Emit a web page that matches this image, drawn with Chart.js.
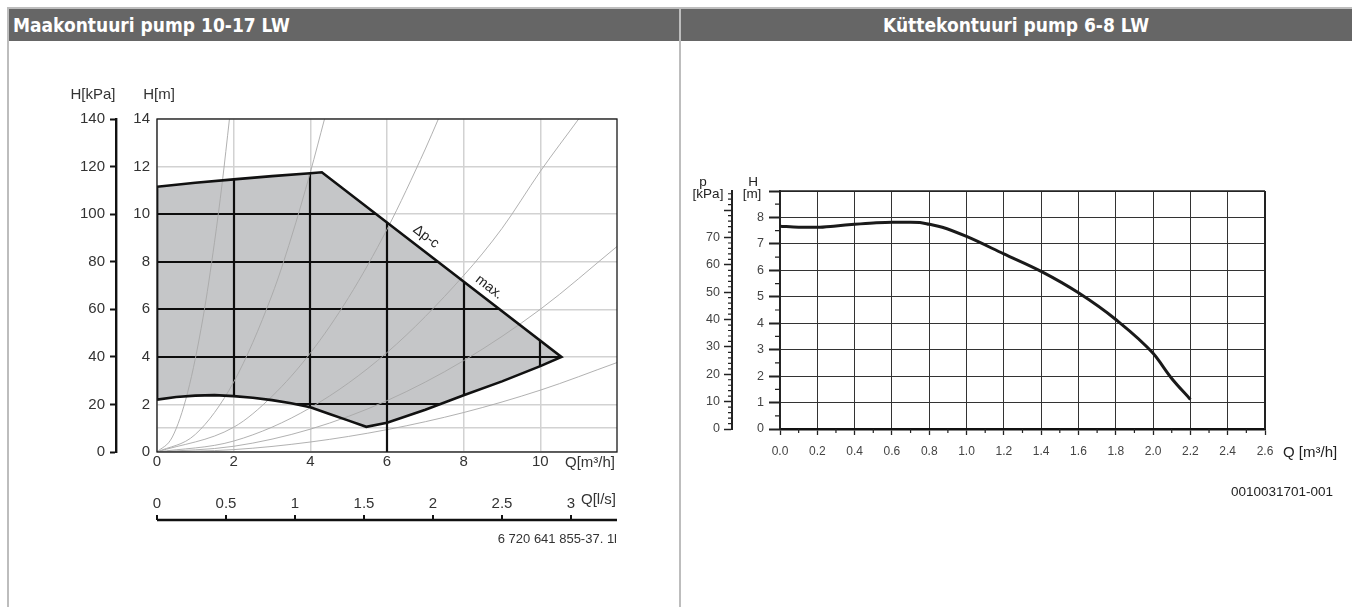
<!DOCTYPE html>
<html>
<head>
<meta charset="utf-8">
<script src="https://cdn.jsdelivr.net/npm/chart.js@4/dist/chart.umd.min.js"></script>
<style>
  html, body { margin: 0; padding: 0; background: #fff; }
  #page { position: relative; width: 1352px; height: 607px; overflow: hidden; }
  .topline { position: absolute; left: 7px; top: 7px; width: 1345px; height: 2px; background: #bdbdbd; }
  .vline { position: absolute; top: 7px; bottom: 0; width: 2px; background: #bdbdbd; }
  .head { position: absolute; top: 9px; height: 32px; background: #666; color: #fff;
          font-family: 'DejaVu Sans Condensed', 'DejaVu Sans', sans-serif; font-weight: bold;
          font-stretch: condensed; font-size: 20px; line-height: 32px; white-space: nowrap; }
  .head span { display: inline-block; transform: scaleX(0.95); }
  canvas { position: absolute; top: 0; }
</style>
</head>
<body>
<div id="page">
  <div class="topline"></div>
  <div class="vline" style="left:7px"></div>
  <div class="vline" style="left:679px"></div>
  <div class="head" style="left:9px;width:670px;"><span style="margin-left:4px;transform-origin:left center">Maakontuuri pump 10-17 LW</span></div>
  <div class="head" style="left:681px;width:671px;text-align:center;"><span style="transform-origin:center center">Küttekontuuri pump 6-8 LW</span></div>
  <canvas id="brine" width="680" height="607" style="left:0"></canvas>
  <canvas id="heating" width="672" height="607" style="left:680px"></canvas>
</div>
<script>
// ---------- brine circuit pump 10-17 LW ----------
const brineFlowTicks = [0, 2, 4, 6, 8, 10];            // Q [m³/h]
const brineFlowLsTicks = [0, 0.5, 1, 1.5, 2, 2.5, 3];  // Q [l/s]
const brineHeadTicks = [0, 1, 2, 4, 6, 8, 10, 12, 14]; // H [m] grid lines
const brineHeadLabels = [0, 2, 4, 6, 8, 10, 12, 14];
const brineKpaTicks = [0, 20, 40, 60, 80, 100, 120, 140];
const m3hPerLs = 3.6;

// operating field boundary
const fieldEdgeQ = [0, 0];
const fieldEdgeH = [2.2, 11.15];
const fieldTopQ = [0, 1, 2, 3, 4, 4.3];
const fieldTopH = [11.15, 11.32, 11.46, 11.6, 11.72, 11.76];
const fieldMaxQ = [4.3, 10.55];
const fieldMaxH = [11.76, 4.0];
const fieldLowRightQ = [5.46, 6, 7, 8, 9, 10, 10.55];
const fieldLowRightH = [1.06, 1.23, 1.78, 2.39, 2.97, 3.61, 4.0];
const fieldLowLeftQ = [0, 0.5, 1, 1.5, 2, 2.5, 3, 3.5, 4, 4.5, 5, 5.46];
const fieldLowLeftH = [2.2, 2.31, 2.37, 2.39, 2.35, 2.28, 2.18, 2.05, 1.88, 1.6, 1.32, 1.06];

// system characteristic curves
const sys1Q = [0, 0.4, 0.8, 1.2, 1.5, 1.7, 1.89];
const sys1H = [0, 0.63, 2.51, 5.64, 8.82, 11.3, 14];
const sys2Q = [0, 1, 2, 3, 3.5, 4, 4.37];
const sys2H = [0, 0.74, 2.94, 6.6, 9.0, 11.76, 14];
const sys3Q = [0, 2, 3, 4, 5, 6, 7, 7.34];
const sys3H = [0, 1.04, 2.34, 4.16, 6.5, 9.36, 12.74, 14];
const sys4Q = [0, 2, 4, 6, 8, 9, 10, 11];
const sys4H = [0, 0.46, 1.86, 4.18, 7.42, 9.4, 11.8, 14];
const sys5Q = [0, 2, 4, 6, 8, 10, 12];
const sys5H = [0, 0.24, 0.96, 2.16, 3.84, 6.0, 8.64];
const sys6Q = [0, 2, 4, 6, 8, 10, 12];
const sys6H = [0, 0.1, 0.42, 0.94, 1.66, 2.6, 3.76];

// reference line at 6 m³/h below the field
const refLineQ = [6, 6];
const refLineH = [0, 1.23];

// ---------- heating circuit pump 6-8 LW ----------
const pumpFlow = [0, 0.1, 0.2, 0.3, 0.4, 0.5, 0.6, 0.7, 0.75, 0.8, 0.87, 1.0, 1.2, 1.4, 1.6, 1.8, 2.0, 2.1, 2.2];
const pumpHead = [7.67, 7.63, 7.63, 7.68, 7.74, 7.79, 7.82, 7.82, 7.81, 7.74, 7.63, 7.28, 6.62, 5.96, 5.15, 4.14, 2.86, 1.91, 1.12];
const heatFlowTicks = [0, 0.2, 0.4, 0.6, 0.8, 1.0, 1.2, 1.4, 1.6, 1.8, 2.0, 2.2, 2.4, 2.6];
const heatHeadTicks = [0, 1, 2, 3, 4, 5, 6, 7, 8, 9];
const heatHeadLabels = [0, 1, 2, 3, 4, 5, 6, 7, 8];
const heatKpaTicks = [0, 10, 20, 30, 40, 50, 60, 70, 80];
const heatKpaLabels = [0, 10, 20, 30, 40, 50, 60, 70];

// ---------- helpers ----------
const FONT = "'Liberation Sans', Arial, sans-serif";
Chart.defaults.font.family = FONT;
Chart.defaults.color = '#333';
Chart.defaults.animation = false;
Chart.defaults.events = [];
Chart.defaults.plugins.legend.display = false;
Chart.defaults.plugins.tooltip.enabled = false;

const toPts = (qs, hs) => qs.map((q, i) => ({ x: q, y: hs[i] }));
const useTicks = values => scale => { scale.ticks = values.map(v => ({ value: v })); };
const onlyLabels = list => v => (list.includes(v) ? String(v) : '');
const fixWidth = w => scale => { scale.width = w; };
const fixHeight = h => scale => { scale.height = h; };

function text(ctx, str, x, y, font, align, color) {
  ctx.save();
  ctx.font = font;
  ctx.fillStyle = color || '#333';
  ctx.textAlign = align || 'center';
  ctx.textBaseline = 'middle';
  ctx.fillText(str, x, y);
  ctx.restore();
}

// closed outline of the operating field
const fieldOutline = [
  ...toPts(fieldEdgeQ, fieldEdgeH),
  ...toPts(fieldTopQ, fieldTopH).slice(1),
  ...toPts(fieldMaxQ, fieldMaxH).slice(1),
  ...toPts(fieldLowRightQ, fieldLowRightH).reverse().slice(1),
  ...toPts(fieldLowLeftQ, fieldLowLeftH).reverse().slice(1)
];

const sysCurves = [[sys1Q, sys1H], [sys2Q, sys2H], [sys3Q, sys3H], [sys4Q, sys4H], [sys5Q, sys5H], [sys6Q, sys6H]];

const brineDatasets = [
  { label: 'field', data: fieldOutline, borderColor: '#111', borderWidth: 2.6,
    borderJoinStyle: 'miter', fill: false, pointRadius: 0, tension: 0, order: 1 },
  { label: 'ref', data: toPts(refLineQ, refLineH), borderColor: '#111', borderWidth: 2.2,
    fill: false, pointRadius: 0, order: 1 },
  ...sysCurves.map(([q, h]) => ({
    label: 'system', data: toPts(q, h), borderColor: '#a8a8a8', borderWidth: 0.9,
    fill: false, pointRadius: 0, cubicInterpolationMode: 'monotone', order: 5
  }))
];

const brineDecor = {
  id: 'brineDecor',
  beforeDatasetsDraw(chart) {
    const { ctx, chartArea: a, scales: { x, y } } = chart;
    const pts = chart.getDatasetMeta(0).data;
    ctx.save();
    ctx.beginPath();
    pts.forEach((p, i) => (i ? ctx.lineTo(p.x, p.y) : ctx.moveTo(p.x, p.y)));
    ctx.closePath();
    ctx.fillStyle = '#c5c6c8';
    ctx.fill();
    ctx.clip();
    ctx.beginPath();
    x.ticks.forEach(t => {
      const px = Math.round(x.getPixelForValue(t.value));
      ctx.moveTo(px, a.top); ctx.lineTo(px, a.bottom);
    });
    y.ticks.forEach(t => {
      const py = Math.round(y.getPixelForValue(t.value));
      ctx.moveTo(a.left, py); ctx.lineTo(a.right, py);
    });
    ctx.lineWidth = 2.2;
    ctx.strokeStyle = '#0d0d0d';
    ctx.stroke();
    ctx.restore();
  },
  afterDraw(chart) {
    const { ctx, chartArea: a, scales: { x, y, x2 } } = chart;
    ctx.save();
    // frame
    ctx.strokeStyle = '#1a1a1a';
    ctx.lineWidth = 1.3;
    ctx.strokeRect(a.left, a.top, a.right - a.left, a.bottom - a.top);
    // l/s axis line with ticks
    const yb = x2.bottom;
    ctx.beginPath();
    ctx.moveTo(a.left, yb); ctx.lineTo(a.right, yb);
    ctx.lineWidth = 2.4; ctx.strokeStyle = '#111'; ctx.stroke();
    ctx.beginPath();
    x2.ticks.forEach(t => {
      const px = x2.getPixelForValue(t.value);
      ctx.moveTo(px, yb); ctx.lineTo(px, yb - 5);
    });
    ctx.lineWidth = 2; ctx.stroke();
    ctx.restore();

    const f15 = '15px ' + FONT;
    text(ctx, 'H[kPa]', 93, 95, f15, 'center', '#333');
    text(ctx, 'H[m]', 159, 95, f15, 'center', '#333');
    text(ctx, 'Q[m³/h]', 565, 463, f15, 'left', '#333');
    text(ctx, 'Q[l/s]', 581, 500, f15, 'left', '#333');
    text(ctx, '6 720 641 855-37. 1l', a.right, 539, '13px ' + FONT, 'right', '#333');

    // curve labels along the max. line
    const p0 = { x: x.getPixelForValue(fieldMaxQ[0]), y: y.getPixelForValue(fieldMaxH[0]) };
    const p1 = { x: x.getPixelForValue(fieldMaxQ[1]), y: y.getPixelForValue(fieldMaxH[1]) };
    const ang = Math.atan2(p1.y - p0.y, p1.x - p0.x);
    const nx = Math.sin(ang), ny = -Math.cos(ang);
    const along = (q, off, str) => {
      const t = (q - fieldMaxQ[0]) / (fieldMaxQ[1] - fieldMaxQ[0]);
      const cx = p0.x + (p1.x - p0.x) * t + nx * off;
      const cy = p0.y + (p1.y - p0.y) * t + ny * off;
      ctx.save();
      ctx.translate(cx, cy);
      ctx.rotate(ang);
      ctx.font = '14px ' + FONT;
      ctx.fillStyle = '#222';
      ctx.textAlign = 'center';
      ctx.textBaseline = 'middle';
      ctx.fillText(str, 0, 0);
      ctx.restore();
    };
    along(6.82, 12.5, 'Δp-c');
    along(8.49, 11, 'max.');
  }
};

new Chart(document.getElementById('brine'), {
  type: 'line',
  data: { datasets: brineDatasets },
  plugins: [brineDecor],
  options: {
    responsive: false,
    devicePixelRatio: 1,
    layout: { padding: { left: 60, top: 119, right: 63, bottom: 87 } },
    scales: {
      x: {
        type: 'linear', position: 'bottom', min: 0, max: 12, weight: 0,
        afterBuildTicks: useTicks(brineFlowTicks), afterFit: fixHeight(20),
        grid: { color: '#d2d2d2', lineWidth: 1.5, drawTicks: false },
        border: { display: false },
        ticks: { autoSkip: false, maxRotation: 0, padding: 1, font: { size: 15 }, color: '#333',
                 callback: v => String(v) }
      },
      x2: {
        type: 'linear', position: 'bottom', min: 0, max: 12 / m3hPerLs, weight: 1,
        afterBuildTicks: useTicks(brineFlowLsTicks), afterFit: fixHeight(48),
        grid: { display: false }, border: { display: false },
        ticks: { autoSkip: false, maxRotation: 0, padding: 15, font: { size: 15 }, color: '#333',
                 callback: v => String(v) }
      },
      y: {
        type: 'linear', position: 'left', min: 0, max: 14, weight: 0,
        afterBuildTicks: useTicks(brineHeadTicks), afterFit: fixWidth(41),
        grid: { color: '#d2d2d2', lineWidth: 1.5, drawTicks: false },
        border: { display: false },
        ticks: { autoSkip: false, padding: 7, font: { size: 15 }, color: '#333',
                 callback: onlyLabels(brineHeadLabels) }
      },
      yk: {
        type: 'linear', position: 'left', min: 0, max: 140, weight: 1,
        afterBuildTicks: useTicks(brineKpaTicks), afterFit: fixWidth(56),
        grid: { display: true, drawOnChartArea: false, drawTicks: true, tickLength: 6,
                tickWidth: 2, tickColor: '#111' },
        border: { display: true, width: 2.4, color: '#111' },
        ticks: { autoSkip: false, padding: 5, font: { size: 15 }, color: '#333',
                 callback: v => String(v) }
      }
    }
  }
});

// ---------- heating chart ----------
const heatDecor = {
  id: 'heatDecor',
  afterDraw(chart) {
    const { ctx, chartArea: a, scales: { x, y, yk } } = chart;
    ctx.save();
    ctx.strokeStyle = '#222';
    // minor ticks
    ctx.beginPath();
    for (let v = 0.5; v < 9; v += 1) {
      const py = y.getPixelForValue(v);
      ctx.moveTo(a.left - 5, py); ctx.lineTo(a.left, py);
    }
    for (let v = 2; v < 87; v += 2) {
      if (v % 10 === 0) continue;
      const py = yk.getPixelForValue(v);
      ctx.moveTo(yk.right - 4, py); ctx.lineTo(yk.right, py);
    }
    for (let i = 1; i < 26; i += 2) {
      const px = x.getPixelForValue(i / 10);
      ctx.moveTo(px, a.bottom); ctx.lineTo(px, a.bottom + 4);
    }
    ctx.lineWidth = 1.2;
    ctx.stroke();
    // top and right frame
    ctx.beginPath();
    ctx.moveTo(a.left, a.top); ctx.lineTo(a.right, a.top);
    ctx.lineWidth = 1.5; ctx.stroke();
    ctx.beginPath();
    ctx.moveTo(a.right, a.top); ctx.lineTo(a.right, a.bottom);
    ctx.lineWidth = 2; ctx.stroke();
    ctx.restore();

    const f13 = '13.5px ' + FONT;
    text(ctx, 'p', 23, 182, f13, 'center', '#222');
    text(ctx, '[kPa]', 28, 194, f13, 'center', '#222');
    text(ctx, 'H', 73, 182, f13, 'center', '#222');
    text(ctx, '[m]', 72, 194, f13, 'center', '#222');
    text(ctx, 'Q [m³/h]', 603, 453, '15px ' + FONT, 'left', '#222');
    text(ctx, '0010031701-001', 653, 492, '13.5px ' + FONT, 'right', '#222');
  }
};

new Chart(document.getElementById('heating'), {
  type: 'line',
  data: {
    datasets: [{
      data: toPts(pumpFlow, pumpHead), borderColor: '#1a1a1a', borderWidth: 3,
      fill: false, pointRadius: 0, cubicInterpolationMode: 'monotone'
    }]
  },
  plugins: [heatDecor],
  options: {
    responsive: false,
    devicePixelRatio: 1,
    layout: { padding: { left: 10, top: 191, right: 87, bottom: 138 } },
    scales: {
      x: {
        type: 'linear', position: 'bottom', min: 0, max: 2.6,
        afterBuildTicks: useTicks(heatFlowTicks), afterFit: fixHeight(40),
        grid: { color: '#333', lineWidth: 1, drawTicks: true, tickLength: 6, tickWidth: 1.3, tickColor: '#222' },
        border: { display: true, width: 2.5, color: '#111' },
        ticks: { autoSkip: false, maxRotation: 0, padding: 9, font: { size: 12 }, color: '#444',
                 callback: v => v.toFixed(1) }
      },
      y: {
        type: 'linear', position: 'left', min: 0, max: 9, weight: 0,
        afterBuildTicks: useTicks(heatHeadTicks), afterFit: fixWidth(48),
        grid: { color: '#333', lineWidth: 1, drawTicks: true, tickLength: 11, tickWidth: 2, tickColor: '#222' },
        border: { display: true, width: 1.8, color: '#222' },
        ticks: { autoSkip: false, padding: 5, font: { size: 12.5 }, color: '#444',
                 callback: onlyLabels(heatHeadLabels) }
      },
      yk: {
        type: 'linear', position: 'left', min: 0, max: 87, weight: 1,
        afterBuildTicks: useTicks(heatKpaTicks), afterFit: fixWidth(42),
        grid: { display: true, drawOnChartArea: false, drawTicks: true, tickLength: 8,
                tickWidth: 1.5, tickColor: '#222' },
        border: { display: true, width: 2, color: '#222' },
        ticks: { autoSkip: false, padding: 4, font: { size: 12.5 }, color: '#444',
                 callback: onlyLabels(heatKpaLabels) }
      }
    }
  }
});
</script>
</body>
</html>
